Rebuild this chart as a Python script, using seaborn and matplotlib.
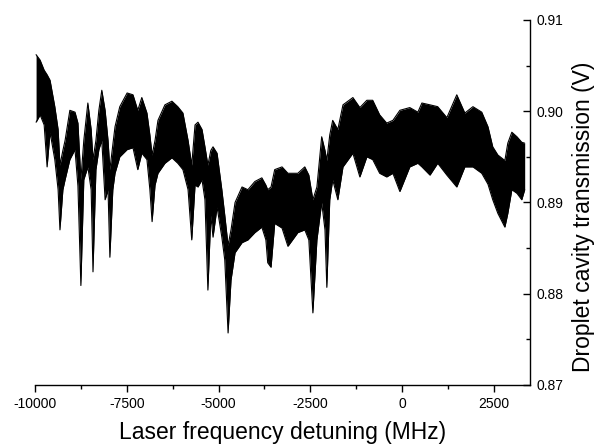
import numpy as np
import pandas as pd
import seaborn as sns
import matplotlib.pyplot as plt
from matplotlib.ticker import MultipleLocator

# envelope of the (very noisy) transmission trace
detuning_mhz = [
    -9970, -9860, -9750, -9670, -9590, -9460, -9370, -9320, -9240, -9180,
    -9050, -8910, -8830, -8750, -8670, -8560, -8470, -8420, -8340, -8260,
    -8180, -8090, -8010, -7960, -7880, -7820, -7690, -7490, -7330, -7200,
    -7090, -6950, -6870, -6810, -6730, -6650, -6460, -6270, -6110, -5970,
    -5830, -5730, -5640, -5560, -5450, -5370, -5290, -5210, -5150, -5040,
    -4910, -4830, -4740, -4660, -4550, -4360, -4200, -4010, -3820, -3710,
    -3660, -3570, -3470, -3270, -3110, -2840, -2650, -2540, -2430, -2320,
    -2190, -2100, -2050, -1970, -1890, -1750, -1610, -1340, -1150, -960,
    -800, -610, -420, -250, -60, 210, 430, 540, 760, 970,
    1220, 1490, 1710, 1930, 2170, 2340, 2470, 2610, 2800, 2880,
    2990, 3130, 3260, 3340,
]
v_upper = [
    0.9062, 0.9056, 0.9045, 0.9040, 0.9034, 0.9005, 0.8980, 0.8941, 0.8957, 0.8968,
    0.9001, 0.8999, 0.8987, 0.8925, 0.8968, 0.9009, 0.8980, 0.8947, 0.8968, 0.9001,
    0.9023, 0.9001, 0.8968, 0.8936, 0.8963, 0.8983, 0.9005, 0.9020, 0.9018, 0.9001,
    0.9015, 0.8998, 0.8974, 0.8952, 0.8968, 0.8990, 0.9007, 0.9011, 0.9005, 0.8998,
    0.8968, 0.8941, 0.8985, 0.8988, 0.8980, 0.8961, 0.8941, 0.8957, 0.8961, 0.8954,
    0.8914, 0.8886, 0.8853, 0.8870, 0.8900, 0.8917, 0.8914, 0.8923, 0.8927, 0.8919,
    0.8914, 0.8917, 0.8936, 0.8939, 0.8932, 0.8932, 0.8939, 0.8930, 0.8903, 0.8917,
    0.8972, 0.8957, 0.8946, 0.8974, 0.8990, 0.8980, 0.9007, 0.9015, 0.9004, 0.9012,
    0.9012, 0.8996, 0.8987, 0.8990, 0.9001, 0.9004, 0.8999, 0.9009, 0.9007, 0.9005,
    0.8993, 0.9018, 0.8998, 0.9005, 0.8999, 0.8983, 0.8961, 0.8952, 0.8946, 0.8965,
    0.8977, 0.8972, 0.8966, 0.8965,
]
v_lower = [
    0.8988, 0.8996, 0.8985, 0.8939, 0.8977, 0.8947, 0.8914, 0.8870, 0.8914, 0.8925,
    0.8947, 0.8958, 0.8918, 0.8809, 0.8925, 0.8939, 0.8914, 0.8824, 0.8936, 0.8958,
    0.8968, 0.8903, 0.8914, 0.8840, 0.8914, 0.8932, 0.8950, 0.8958, 0.8960, 0.8936,
    0.8954, 0.8947, 0.8914, 0.8879, 0.8919, 0.8932, 0.8943, 0.8949, 0.8943, 0.8936,
    0.8914, 0.8859, 0.8919, 0.8917, 0.8925, 0.8903, 0.8804, 0.8886, 0.8862, 0.8895,
    0.8862, 0.8837, 0.8757, 0.8815, 0.8845, 0.8856, 0.8859, 0.8867, 0.8873, 0.8859,
    0.8834, 0.8829, 0.8877, 0.8872, 0.8852, 0.8867, 0.8870, 0.8859, 0.8779, 0.8859,
    0.8900, 0.8870, 0.8807, 0.8903, 0.8925, 0.8903, 0.8939, 0.8954, 0.8928, 0.8950,
    0.8947, 0.8932, 0.8928, 0.8932, 0.8912, 0.8939, 0.8943, 0.8939, 0.8930, 0.8943,
    0.8930, 0.8917, 0.8939, 0.8939, 0.8932, 0.8920, 0.8903, 0.8888, 0.8873, 0.8888,
    0.8914, 0.8910, 0.8903, 0.8914,
]

df = pd.DataFrame({"detuning": detuning_mhz, "upper": v_upper, "lower": v_lower})

sns.set_theme(style="ticks")
plt.rcParams["font.family"] = ["Liberation Sans", "DejaVu Sans"]
plt.rcParams["axes.unicode_minus"] = False

fig = plt.figure(figsize=(5.98, 4.46), dpi=100)
ax = fig.add_axes([0.0585, 0.1368, 0.8275, 0.8184])

ax.fill_between(df["detuning"], df["lower"], df["upper"], color="black", linewidth=0)
sns.lineplot(data=df, x="detuning", y="upper", color="black", linewidth=0.8, ax=ax)
sns.lineplot(data=df, x="detuning", y="lower", color="black", linewidth=0.8, ax=ax)

ax.set_xlim(-10000, 3480)
ax.set_ylim(0.87, 0.91)
ax.xaxis.set_major_locator(MultipleLocator(2500))
ax.xaxis.set_minor_locator(MultipleLocator(1250))
ax.yaxis.set_minor_locator(MultipleLocator(0.005))
ax.set_yticks([0.87, 0.88, 0.89, 0.90, 0.91])
ax.set_yticklabels(["0.87", "0.88", "0.89", "0.90", "0.91"])

ax.spines["left"].set_visible(False)
ax.spines["top"].set_visible(False)
for side in ["right", "bottom"]:
    ax.spines[side].set_linewidth(1.0)
    ax.spines[side].set_color("black")

ax.yaxis.tick_right()
ax.yaxis.set_label_position("right")
ax.tick_params(axis="x", which="major", direction="out", length=5, width=1.0,
               labelsize=10, colors="black", pad=3.5)
ax.tick_params(axis="x", which="minor", direction="out", length=3, width=1.0, colors="black")
ax.tick_params(axis="y", which="major", direction="in", length=5, width=1.0,
               labelsize=10, colors="black", pad=5)
ax.tick_params(axis="y", which="minor", direction="in", length=3, width=1.0, colors="black")

ax.set_xlabel("Laser frequency detuning (MHz)", fontsize=16.5, color="black", labelpad=7.5)
ax.set_ylabel("Droplet cavity transmission (V)", fontsize=16.5, color="black", labelpad=6, y=0.46)

fig.savefig("out.png", dpi=100)
